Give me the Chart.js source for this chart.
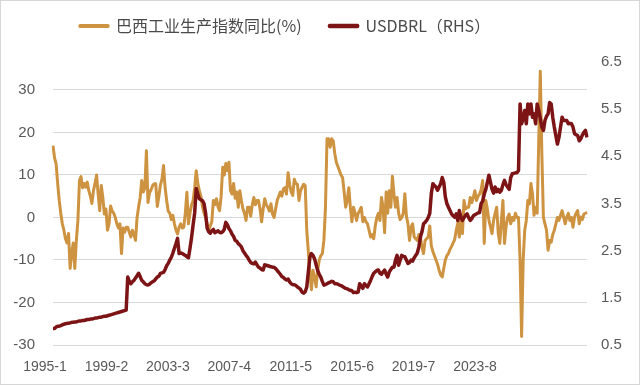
<!DOCTYPE html>
<html>
<head>
<meta charset="utf-8">
<script src="https://cdn.jsdelivr.net/npm/chart.js@4"></script>
<style>
    body { margin: 0; background: #fff; }
    #wrap { position: relative; width: 640px; height: 385px; }
    #wrap::after { content: ''; position: absolute; inset: 0; border: 1px solid #d6d6d6; pointer-events: none; }
</style>
</head>
<body>
<div id="wrap"><canvas id="ipChart" width="640" height="385"></canvas></div>
<script>
// Brazil industrial production YoY (%), monthly from 1995-1
const ip = [
    16.9, 14, 12.6, 8, 4, 1, -1.5, -3, -5, -6, -3.8, -12,            // 1995
    -8.5, -6, -12, -5.4, -0.7, 8.7, 9.6, 7, 8, 7.1, 8.3, 6.3,        // 1996
    5, 3.3, 6.3, 8, 10, 5.5, 1.6, 7.5, 4.7, 0.8, 2, -3,              // 1997
    -1.5, 2.7, 1.5, 1, 0, -1.5, -2.5, -1.5, -8.5, -2.5, -3.5, -2.3,  // 1998
    -2.3, -3.5, -4.6, -3, -4, -5.4, 0, 2.5, 4.7, 8.7, 6, 7,          // 1999
    15.7, 3.5, 5.8, 6.5, 7.5, 7.9, 7.9, 2.6, 5, 7.6, 9, 12.2,        // 2000
    7.1, 4, 1.5, 1, -0.5, 0.5, -1.5, -3, -3.9, -2.3, -1.5, -2.5,     // 2001
    -2.3, 1, 5.9, -1.5, 1, 3, 4, 7, 11, 8, 6.3, 5,                   // 2002
    2.6, 1, 0, -1.5, -3, -2, -1, 4, 3, 4.4, 2.5, 1.6,                // 2003
    5, 11.8, 10, 12.7, 11, 13, 6.3, 5.5, 8, 4.5, 6, 2.4,             // 2004
    6.3, 4, 2, 1, -0.7, 2.4, 2.4, 0.3, 3, 4.7, 3, 4,                 // 2005
    4, 2, -1, 2, 4.4, 3, 2.4, 1.5, 3.2, 0.8, 0, 2,                   // 2006
    4, 5, 6, 5, 6.7, 7, 5.5, 10.5, 7.8, 6, 5.2, 9,                   // 2007
    8, 7.8, 4, 6.3, 7.1, 7.8, 7.5, -3, -8, -13, -17, -12.4,          // 2008
    -14, -16.3, -12.4, -10, -9, -8.5, -5.4, 2.3, 18.5, 18.5, 16.5, 18.5, // 2009
    18, 15, 13, 12, 11, 10, 9.4, 6, 2.4, 4, 7, 2.4,                  // 2010
    -1, 2.4, 1, -0.7, 1, 1.6, 2.4, -1, 0, -1, -1.5, -3,              // 2011
    -4.6, -4, -5, -2, 0, 1, -0.7, 4.7, 2.4, -3.6, 6, 1,              // 2012
    6.3, 2.4, 9.7, 5.5, 2.4, 4.7, 1, -0.5, 0, 1, 5.6, 0.3,           // 2013
    -1.5, -5.4, -2.3, -1.5, -4.6, -5, -5.4, -4, -4.6, -7, -8.5, -5.4, // 2014
    -5, -4.6, -2, -6.7, -8, -9, -10, -11, -12.4, -13.5, -14, -12,    // 2015
    -10, -9, -8.5, -7.5, -6.8, -6, -5.2, -3, -1.3, -4.6, 0, -3.8,    // 2016
    4, 2, 2.4, 2.4, 4.7, 3.5, 4.8, 6.3, 4, 5, 5.5, 6.5,              // 2017
    8.7, -6.1, 4, 2, -0.7, -2.2, -3.8, -0.7, 1, 2.4, -3.8, -6.1,     // 2018
    -0.7, 4, -6.1, -2.2, 0, 0.8, -1.5, 0, -0.7, 1, 0, 0,             // 2019
    -10, -28, -10, -3, -0.7, 4, 3.2, 8, 5.5, 0.5, 2.4, 1,            // 2020
    18, 34.4, 15, 0, -1.5, -3, -7.7, -5.4, -5.8, -4, -3, -1.5,       // 2021
    0, -0.7, 0.5, 1.6, 0.1, -1.5, 0.1, 1, -0.7, 0, -2.3, 0.1,        // 2022
    1, 1.6, -1.5, 0.1, -0.5, 0.8, 1, 1.2                             // 2023
];

// USDBRL, monthly
const usdbrl = [
    0.85, 0.85, 0.88, 0.90, 0.90, 0.91, 0.93, 0.94, 0.95, 0.96, 0.96, 0.97, // 1995
    0.98, 0.98, 0.99, 0.99, 1.00, 1.01, 1.01, 1.02, 1.02, 1.03, 1.04, 1.04, // 1996
    1.05, 1.05, 1.06, 1.07, 1.07, 1.08, 1.09, 1.09, 1.10, 1.11, 1.11, 1.12, // 1997
    1.13, 1.14, 1.15, 1.16, 1.17, 1.18, 1.19, 1.20, 1.21, 1.22, 1.23, 1.24, // 1998
    1.94, 1.85, 1.80, 1.84, 1.87, 1.92, 1.97, 2.02, 1.95, 1.87, 1.84, 1.80, // 1999
    1.78, 1.77, 1.79, 1.82, 1.84, 1.86, 1.90, 1.94, 1.96, 2.02, 2.03, 2.04, // 2000
    2.10, 2.18, 2.23, 2.30, 2.36, 2.45, 2.55, 2.65, 2.76, 2.44, 2.45, 2.44, // 2001
    2.42, 2.40, 2.37, 2.35, 2.55, 2.78, 3.05, 3.30, 3.82, 3.70, 3.60, 3.58, // 2002
    3.56, 3.50, 3.30, 2.98, 2.90, 2.87, 2.92, 2.95, 2.88, 2.90, 2.92, 2.89, // 2003
    2.88, 2.90, 2.95, 3.10, 3.05, 2.97, 2.92, 2.85, 2.80, 2.72, 2.70, 2.65, // 2004
    2.62, 2.58, 2.50, 2.45, 2.40, 2.36, 2.30, 2.25, 2.23, 2.22, 2.26, 2.20, // 2005
    2.15, 2.13, 2.10, 2.09, 2.20, 2.19, 2.18, 2.17, 2.16, 2.15, 2.15, 2.12, // 2006
    2.08, 2.04, 2.00, 1.95, 1.93, 1.90, 1.88, 1.90, 1.84, 1.80, 1.78, 1.78, // 2007
    1.76, 1.73, 1.71, 1.68, 1.62, 1.60, 1.63, 1.73, 2.05, 2.36, 2.44, 2.40, // 2008
    2.33, 2.20, 2.08, 2.00, 1.94, 1.85, 1.77, 1.78, 1.80, 1.82, 1.83, 1.85, // 2009
    1.84, 1.80, 1.80, 1.79, 1.77, 1.76, 1.74, 1.72, 1.70, 1.69, 1.67, 1.66, // 2010
    1.65, 1.61, 1.62, 1.61, 1.62, 1.80, 1.75, 1.70, 1.80, 1.76, 1.73, 1.80, // 2011
    1.87, 1.95, 2.02, 2.05, 2.08, 2.09, 2.02, 2.00, 2.05, 2.09, 2.00, 1.94, // 2012
    2.05, 2.10, 2.15, 2.15, 2.30, 2.40, 2.19, 2.30, 2.40, 2.38, 2.37, 2.30, // 2013
    2.23, 2.25, 2.30, 2.28, 2.35, 2.40, 2.45, 2.58, 2.79, 2.90, 3.07, 3.10, // 2014
    3.14, 3.20, 3.29, 3.71, 3.92, 3.88, 3.85, 3.78, 3.85, 3.92, 4.05, 3.95, // 2015
    3.64, 3.50, 3.42, 3.35, 3.28, 3.24, 3.21, 3.28, 3.14, 3.35, 3.21, 3.14, // 2016
    3.20, 3.25, 3.28, 3.20, 3.14, 3.18, 3.24, 3.26, 3.28, 3.30, 3.31, 3.50, // 2017
    3.55, 3.70, 3.80, 3.95, 4.10, 3.95, 3.80, 3.72, 3.85, 3.75, 3.80, 3.74, // 2018
    3.78, 3.90, 3.99, 3.90, 3.85, 3.80, 4.05, 4.13, 4.14, 4.15, 4.15, 4.20, // 2019
    5.61, 5.19, 5.30, 5.47, 5.19, 5.61, 5.40, 5.61, 5.33, 5.40, 5.19, 5.61, // 2020
    5.47, 5.30, 5.12, 5.05, 5.26, 5.35, 5.40, 5.64, 5.61, 5.33, 5.12, 4.94, // 2021
    4.76, 4.90, 5.12, 5.33, 5.26, 5.26, 5.26, 5.19, 5.20, 5.19, 5.12, 4.98, // 2022
    4.96, 4.94, 4.83, 4.87, 4.95, 5.01, 5.05, 4.90                          // 2023
];

const months = ip.map((_, i) => `${1995 + Math.floor(i / 12)}-${i % 12 + 1}`);
const xTickLabels = ['1995-1', '1999-2', '2003-3', '2007-4', '2011-5', '2015-6', '2019-7', '2023-8'];

const gold = '#CD9340';
const darkRed = '#7C1416';
const textColor = '#595959';

// extra room under the legend, and legend shifted left like the original
const legendOffset = {
    id: 'legendOffset',
    beforeInit(chart) {
        const fit = chart.legend.fit;
        chart.legend.fit = function () {
            fit.call(this);
            this.height += 8;
        };
    },
    afterLayout(chart) {
        chart.legend.left = 52;
        chart.legend.top = -10;
    }
};

const ctx = document.getElementById('ipChart').getContext('2d');

new Chart(ctx, {
    type: 'line',
    data: {
        labels: months,
        datasets: [
            {
                label: '巴西工业生产指数同比(%)',
                data: ip,
                yAxisID: 'y',
                borderColor: gold,
                backgroundColor: gold,
                borderWidth: 3,
                borderJoinStyle: 'round',
                pointRadius: 0,
                order: 2
            },
            {
                label: 'USDBRL（RHS）',
                data: usdbrl,
                yAxisID: 'y1',
                borderColor: darkRed,
                backgroundColor: darkRed,
                borderWidth: 3.5,
                borderJoinStyle: 'round',
                pointRadius: 0,
                order: 1
            }
        ]
    },
    options: {
        responsive: false,
        animation: false,
        layout: { padding: 0 },
        plugins: {
            legend: {
                align: 'start',
                labels: {
                    boxWidth: 28,
                    boxHeight: 1,
                    padding: 28,
                    color: '#4a4a4a',
                    font: { family: '"Noto Sans CJK SC", sans-serif', size: 16 },
                    sort: (a, b) => a.datasetIndex - b.datasetIndex
                }
            },
            tooltip: { enabled: false }
        },
        scales: {
            x: {
                grid: { display: false, drawTicks: false },
                border: { display: false },
                afterBuildTicks: scale => {
                    scale.ticks = xTickLabels.map((_, k) => ({ value: k * 39.46 }));
                },
                afterFit: scale => { scale.height = 40; },
                ticks: {
                    autoSkip: false,
                    maxRotation: 0,
                    labelOffset: -8,
                    padding: 14,
                    color: textColor,
                    font: { family: '"Liberation Sans", Arial, sans-serif', size: 14 },
                    callback: (value, index) => xTickLabels[index]
                }
            },
            y: {
                position: 'left',
                min: -30,
                max: 36.56,
                grid: { color: '#d9d9d9', drawTicks: false },
                border: { display: false },
                afterBuildTicks: scale => {
                    scale.ticks = scale.ticks.filter(t => t.value <= 30);
                },
                afterFit: scale => { scale.width = 53; },
                ticks: {
                    stepSize: 10,
                    includeBounds: false,
                    padding: 18,
                    color: textColor,
                    font: { family: '"Liberation Sans", Arial, sans-serif', size: 15 }
                }
            },
            y1: {
                position: 'right',
                min: 0.5,
                max: 6.5,
                grid: { display: false, drawTicks: false },
                border: { display: false },
                afterFit: scale => { scale.width = 53; },
                ticks: {
                    stepSize: 1,
                    padding: 14,
                    color: textColor,
                    font: { family: '"Liberation Sans", Arial, sans-serif', size: 15 },
                    callback: value => value.toFixed(1)
                }
            }
        }
    },
    plugins: [legendOffset]
});
</script>
</body>
</html>
